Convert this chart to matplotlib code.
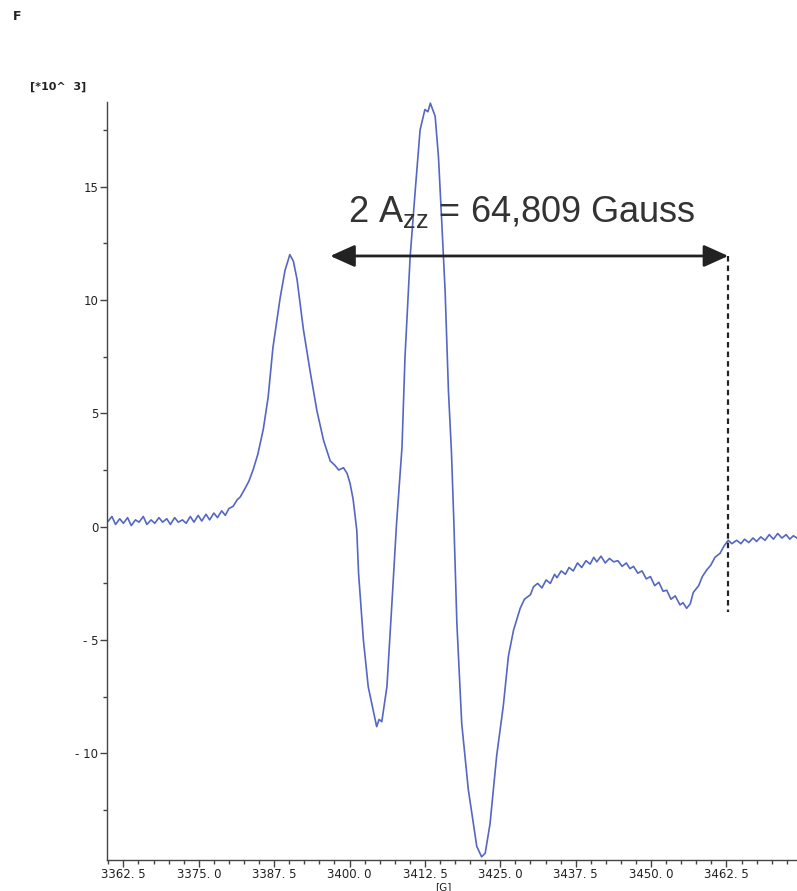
import matplotlib
matplotlib.use("Agg")
import matplotlib.pyplot as plt
from matplotlib.ticker import MultipleLocator, FixedLocator

plt.rcParams['mathtext.fontset'] = 'custom'
plt.rcParams['mathtext.rm'] = 'Liberation Sans'
plt.rcParams['mathtext.it'] = 'Liberation Sans'
plt.rcParams['mathtext.default'] = 'regular'

# ---- data (field in Gauss, intensity in 10^3 units) ----
field = [3360.0, 3360.6, 3361.2, 3361.9, 3362.5, 3363.2, 3363.8, 3364.5, 3365.1, 3365.8,
         3366.4, 3367.1, 3367.7, 3368.4, 3369.0, 3369.7, 3370.3, 3371.0, 3371.6, 3372.3,
         3372.9, 3373.6, 3374.2, 3374.9, 3375.5, 3376.2, 3376.8, 3377.5, 3378.1, 3378.8,
         3379.4, 3380.0, 3380.7, 3381.4, 3381.85, 3382.5, 3383.3, 3384.0, 3384.8, 3385.7,
         3386.5, 3387.3, 3388.5, 3389.3, 3390.1, 3390.7, 3391.3, 3392.35, 3393.5, 3394.6,
         3395.7, 3396.8, 3397.6, 3398.2, 3399.0, 3399.6, 3400.1, 3400.6, 3401.2, 3401.5,
         3402.3, 3403.1, 3404.5, 3404.9, 3405.35, 3406.2, 3407.0, 3407.8, 3408.7, 3409.2,
         3410.05, 3410.9, 3411.7, 3412.5, 3413.0, 3413.4, 3414.2, 3414.75, 3415.3, 3415.85,
         3416.4, 3416.9, 3417.3, 3417.8, 3418.6, 3419.7, 3421.1, 3421.9, 3422.5, 3423.3,
         3424.4, 3425.5, 3426.35, 3427.2, 3428.3, 3429.0, 3430.0, 3430.5, 3431.2, 3431.9,
         3432.6, 3433.3, 3434.0, 3434.4, 3435.1, 3435.8, 3436.4, 3437.1, 3437.8, 3438.5,
         3439.2, 3439.9, 3440.5, 3441.0, 3441.7, 3442.4, 3443.1, 3443.8, 3444.5, 3445.2,
         3445.9, 3446.5, 3447.1, 3447.8, 3448.5, 3449.2, 3449.9, 3450.6, 3451.3, 3452.0,
         3452.6, 3453.3, 3454.0, 3454.8, 3455.3, 3455.9, 3456.5, 3457.0, 3457.3, 3457.9,
         3458.5, 3459.25, 3459.9, 3460.6, 3461.45, 3462.1, 3462.8, 3463.4, 3464.2, 3464.9,
         3465.5, 3466.2, 3466.9, 3467.5, 3468.2, 3468.9, 3469.6, 3470.3, 3471.0, 3471.7,
         3472.4, 3473.0, 3473.6, 3474.2]
intensity = [0.25, 0.45, 0.1, 0.35, 0.15, 0.4, 0.05, 0.3, 0.2, 0.45,
             0.1, 0.3, 0.15, 0.4, 0.2, 0.35, 0.1, 0.4, 0.2, 0.3,
             0.15, 0.45, 0.2, 0.5, 0.25, 0.55, 0.3, 0.6, 0.4, 0.7,
             0.5, 0.8, 0.9, 1.2, 1.3, 1.6, 2.0, 2.5, 3.2, 4.3,
             5.7, 7.9, 10.1, 11.3, 12.0, 11.7, 10.9, 8.7, 6.8, 5.1,
             3.8, 2.9, 2.7, 2.5, 2.6, 2.35, 1.9, 1.2, -0.15, -2.06,
             -5.0, -7.06, -8.82, -8.5, -8.6, -7.06, -3.5, 0.15, 3.5, 7.5,
             11.9, 14.85, 17.5, 18.4, 18.3, 18.68, 18.1, 16.3, 13.4, 10.4,
             6.0, 3.3, 0.2, -4.26, -8.67, -11.6, -14.1, -14.56, -14.4, -13.1,
             -10.1, -7.9, -5.7, -4.56, -3.6, -3.2, -3.0, -2.65, -2.5, -2.7,
             -2.35, -2.5, -2.1, -2.25, -1.95, -2.1, -1.8, -1.95, -1.6, -1.8,
             -1.5, -1.65, -1.35, -1.55, -1.3, -1.6, -1.4, -1.55, -1.5, -1.75,
             -1.6, -1.85, -1.75, -2.05, -1.95, -2.3, -2.2, -2.6, -2.45, -2.85,
             -2.8, -3.2, -3.05, -3.45, -3.35, -3.6, -3.4, -2.9, -2.8, -2.6,
             -2.2, -1.9, -1.7, -1.35, -1.17, -0.85, -0.6, -0.75, -0.6, -0.75,
             -0.55, -0.7, -0.5, -0.65, -0.45, -0.6, -0.35, -0.55, -0.3, -0.5,
             -0.35, -0.55, -0.4, -0.5]

x_ticks = [3362.5, 3375.0, 3387.5, 3400.0, 3412.5, 3425.0, 3437.5, 3450.0, 3462.5]
x_tick_labels = ["3362. 5", "3375. 0", "3387. 5", "3400. 0", "3412. 5",
                 "3425. 0", "3437. 5", "3450. 0", "3462. 5"]
y_ticks = [-10, -5, 0, 5, 10, 15]
y_tick_labels = ["- 10", "- 5", "0", "5", "10", "15"]

arrow_start = 3396.8
arrow_end = 3462.8
arrow_level = 11.94
dash_bottom = -3.77
annotation = "2 A$_{zz}$ = 64,809 Gauss"

# ---- figure ----
fig = plt.figure(figsize=(7.97, 8.91), dpi=100)
ax = fig.add_axes([0.134, 0.0348, 0.866, 0.8507])

ax.plot(field, intensity, color='#5566c4', lw=1.2)

ax.set_xlim(3359.75, 3474.2)
ax.set_ylim(-14.7, 18.73)

for s in ['top', 'right']:
    ax.spines[s].set_visible(False)
for s in ['left', 'bottom']:
    ax.spines[s].set_color('#444444')
    ax.spines[s].set_linewidth(1.0)

ax.xaxis.set_major_locator(FixedLocator(x_ticks))
ax.set_xticklabels(x_tick_labels)
ax.xaxis.set_minor_locator(MultipleLocator(2.5))
ax.yaxis.set_major_locator(FixedLocator(y_ticks))
ax.set_yticklabels(y_tick_labels)
ax.yaxis.set_minor_locator(MultipleLocator(2.5))

ax.tick_params(axis='both', which='major', length=5, width=1, color='#444444',
               labelsize=8.5, labelcolor='#222222', pad=1.0)
ax.tick_params(axis='both', which='minor', length=3, width=1, color='#444444')
for lab in ax.get_xticklabels() + ax.get_yticklabels():
    lab.set_family('DejaVu Sans')

# Axis unit labels
fig.text(30 / 797, 1 - 87 / 891, "[*10^  3]", fontsize=8, color='#222222',
         family='DejaVu Sans', va='center', ha='left', fontweight='bold')
fig.text(443 / 797, 1 - 887 / 891, "[G]", fontsize=7.5, color='#222222',
         family='DejaVu Sans', va='center', ha='center')
fig.text(13 / 797, 1 - 17 / 891, "F", fontsize=9, color='#222222',
         family='DejaVu Sans', va='center', ha='left', fontweight='bold')

# Double arrow
ax.annotate("", xy=(arrow_end, arrow_level), xytext=(arrow_start, arrow_level),
            arrowprops=dict(arrowstyle='<|-|>,head_length=1.0,head_width=0.45',
                            color='#222222', lw=2, shrinkA=0, shrinkB=0,
                            mutation_scale=15))
ax.plot([arrow_end, arrow_end], [arrow_level, dash_bottom], color='#222222',
        lw=1.6, ls=(0, (2.5, 1.8)))

ax.text((arrow_start + arrow_end) / 2 - 1.2, 13.9, annotation, fontsize=26,
        family='Liberation Sans', color='#333333', ha='center', va='center')

fig.savefig("out.png", dpi=100)
